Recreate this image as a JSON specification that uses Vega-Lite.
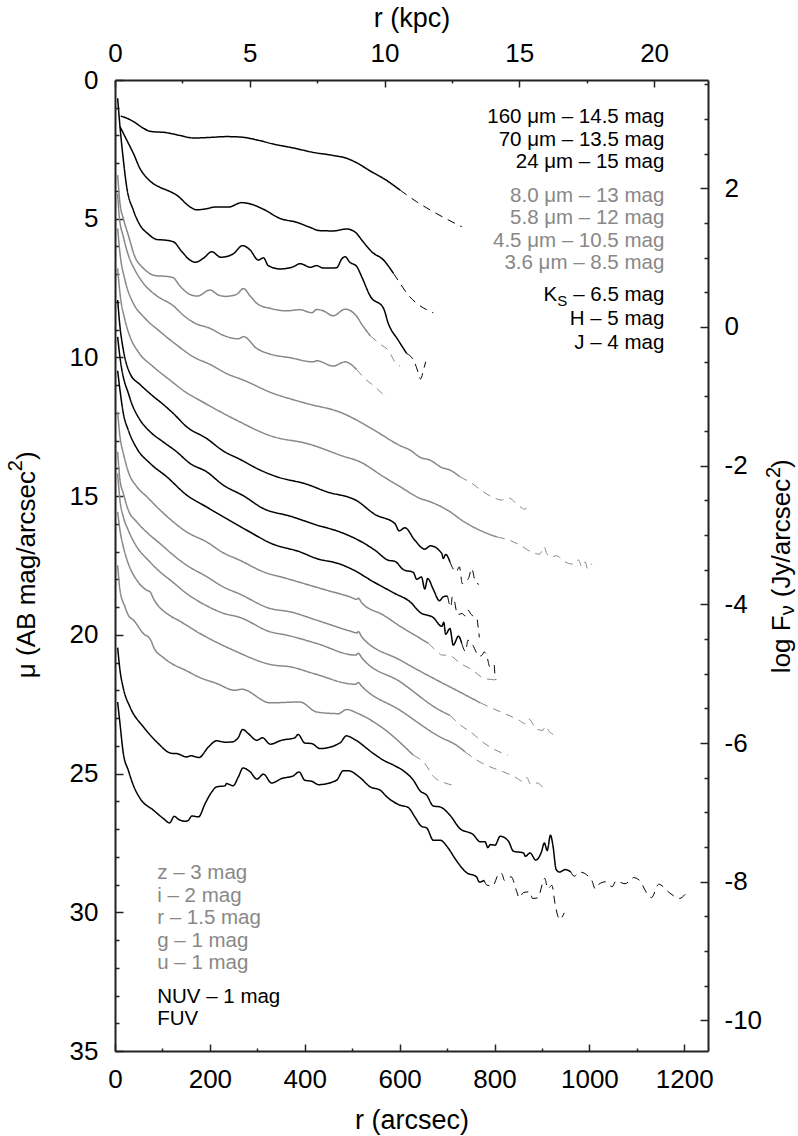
{
  "$schema": "https://vega.github.io/schema/vega-lite/v6.json",
  "width": 593,
  "height": 971,
  "autosize": {"type": "none"},
  "padding": {"left": 115, "top": 80, "right": 90, "bottom": 85},
  "background": "white",
  "config": {
    "view": {"stroke": null},
    "font": "Liberation Sans",
    "axis": {
      "grid": false,
      "domainColor": "#222",
      "domainWidth": 2,
      "tickColor": "#222",
      "tickWidth": 1.5,
      "labelFont": "Liberation Sans",
      "labelFontSize": 26,
      "labelColor": "black",
      "titleFont": "Liberation Sans",
      "titleFontSize": 27,
      "titleFontWeight": "normal",
      "titleColor": "black",
      "labelOverlap": false,
      "labelFlush": false
    }
  },
  "datasets": {
    "anchor": [{"r": 0, "mu": 0, "kpc": 0, "logF": 0}],
    "curves": [
      {"band":"160","part":"solid","r":12,"mu":1.3},{"band":"160","part":"solid","r":21,"mu":1.35},{"band":"160","part":"solid","r":39,"mu":1.5},{"band":"160","part":"solid","r":60,"mu":1.74},{"band":"160","part":"solid","r":74,"mu":1.85},{"band":"160","part":"solid","r":109,"mu":1.9},{"band":"160","part":"solid","r":137,"mu":2.0},{"band":"160","part":"solid","r":165,"mu":2.09},{"band":"160","part":"solid","r":200,"mu":2.07},{"band":"160","part":"solid","r":235,"mu":2.04},{"band":"160","part":"solid","r":267,"mu":2.06},{"band":"160","part":"solid","r":299,"mu":2.16},{"band":"160","part":"solid","r":334,"mu":2.31},{"band":"160","part":"solid","r":376,"mu":2.45},{"band":"160","part":"solid","r":418,"mu":2.61},{"band":"160","part":"solid","r":460,"mu":2.72},{"band":"160","part":"solid","r":488,"mu":2.82},{"band":"160","part":"solid","r":509,"mu":2.98},{"band":"160","part":"solid","r":538,"mu":3.28},{"band":"160","part":"solid","r":569,"mu":3.58},{"band":"160","part":"solid","r":601,"mu":3.97},
      {"band":"160","part":"dash","r":601,"mu":3.97},{"band":"160","part":"dash","r":636,"mu":4.39},{"band":"160","part":"dash","r":671,"mu":4.75},{"band":"160","part":"dash","r":731,"mu":5.29},
      {"band":"70","part":"solid","r":10.5,"mu":1.68},{"band":"70","part":"solid","r":24.6,"mu":2.16},{"band":"70","part":"solid","r":38.6,"mu":2.64},{"band":"70","part":"solid","r":52.7,"mu":3.19},{"band":"70","part":"solid","r":70,"mu":3.58},{"band":"70","part":"solid","r":95,"mu":3.87},{"band":"70","part":"solid","r":112,"mu":3.99},{"band":"70","part":"solid","r":130,"mu":4.15},{"band":"70","part":"solid","r":158,"mu":4.57},{"band":"70","part":"solid","r":172,"mu":4.68},{"band":"70","part":"solid","r":193,"mu":4.64},{"band":"70","part":"solid","r":211,"mu":4.58},{"band":"70","part":"solid","r":239,"mu":4.58},{"band":"70","part":"solid","r":267,"mu":4.42},{"band":"70","part":"solid","r":281,"mu":4.45},{"band":"70","part":"solid","r":313,"mu":4.66},{"band":"70","part":"solid","r":348,"mu":4.99},{"band":"70","part":"solid","r":383,"mu":5.13},{"band":"70","part":"solid","r":408,"mu":5.29},{"band":"70","part":"solid","r":432,"mu":5.43},{"band":"70","part":"solid","r":460,"mu":5.44},{"band":"70","part":"solid","r":488,"mu":5.37},{"band":"70","part":"solid","r":506,"mu":5.48},{"band":"70","part":"solid","r":523,"mu":5.83},{"band":"70","part":"solid","r":541,"mu":6.19},{"band":"70","part":"solid","r":566,"mu":6.49},{"band":"70","part":"solid","r":587,"mu":6.97},
      {"band":"70","part":"dash","r":587,"mu":6.97},{"band":"70","part":"dash","r":601,"mu":7.33},{"band":"70","part":"dash","r":618,"mu":7.75},{"band":"70","part":"dash","r":636,"mu":8.05},{"band":"70","part":"dash","r":671,"mu":8.39},
      {"band":"24","part":"solid","r":5.6,"mu":0.66},{"band":"24","part":"solid","r":10.5,"mu":1.68},{"band":"24","part":"solid","r":17.6,"mu":2.88},{"band":"24","part":"solid","r":24.6,"mu":3.85},{"band":"24","part":"solid","r":38.6,"mu":4.69},{"band":"24","part":"solid","r":52.7,"mu":5.23},{"band":"24","part":"solid","r":70,"mu":5.55},{"band":"24","part":"solid","r":88,"mu":5.75},{"band":"24","part":"solid","r":105,"mu":5.77},{"band":"24","part":"solid","r":123,"mu":5.83},{"band":"24","part":"solid","r":141,"mu":6.19},{"band":"24","part":"solid","r":158,"mu":6.49},{"band":"24","part":"solid","r":169,"mu":6.57},{"band":"24","part":"solid","r":186,"mu":6.43},{"band":"24","part":"solid","r":204,"mu":6.19},{"band":"24","part":"solid","r":223,"mu":6.39},{"band":"24","part":"solid","r":249,"mu":6.27},{"band":"24","part":"solid","r":269,"mu":5.97},{"band":"24","part":"solid","r":285,"mu":6.13},{"band":"24","part":"solid","r":302,"mu":6.49},{"band":"24","part":"solid","r":313,"mu":6.41},{"band":"24","part":"solid","r":323,"mu":6.69},{"band":"24","part":"solid","r":348,"mu":6.81},{"band":"24","part":"solid","r":376,"mu":6.73},{"band":"24","part":"solid","r":390,"mu":6.62},{"band":"24","part":"solid","r":412,"mu":6.75},{"band":"24","part":"solid","r":425,"mu":6.69},{"band":"24","part":"solid","r":439,"mu":6.78},{"band":"24","part":"solid","r":467,"mu":6.77},{"band":"24","part":"solid","r":478,"mu":6.45},{"band":"24","part":"solid","r":485,"mu":6.37},{"band":"24","part":"solid","r":495,"mu":6.57},{"band":"24","part":"solid","r":509,"mu":6.71},{"band":"24","part":"solid","r":520,"mu":7.09},{"band":"24","part":"solid","r":538,"mu":7.79},{"band":"24","part":"solid","r":566,"mu":8.23},{"band":"24","part":"solid","r":576,"mu":8.77},{"band":"24","part":"solid","r":597,"mu":9.38},{"band":"24","part":"solid","r":615,"mu":9.86},
      {"band":"24","part":"dash","r":615,"mu":9.86},{"band":"24","part":"dash","r":631,"mu":10.16},{"band":"24","part":"dash","r":641,"mu":10.64},{"band":"24","part":"dash","r":644,"mu":10.78},{"band":"24","part":"dash","r":651,"mu":10.4},{"band":"24","part":"dash","r":655,"mu":10.16},
      {"band":"8.0","part":"solid","r":5.6,"mu":3.43},{"band":"8.0","part":"solid","r":10.5,"mu":4.45},{"band":"8.0","part":"solid","r":17.6,"mu":4.99},{"band":"8.0","part":"solid","r":28,"mu":5.59},{"band":"8.0","part":"solid","r":42,"mu":6.37},{"band":"8.0","part":"solid","r":60,"mu":6.79},{"band":"8.0","part":"solid","r":88,"mu":7.06},{"band":"8.0","part":"solid","r":102,"mu":7.07},{"band":"8.0","part":"solid","r":122,"mu":7.12},{"band":"8.0","part":"solid","r":137,"mu":7.43},{"band":"8.0","part":"solid","r":158,"mu":7.73},{"band":"8.0","part":"solid","r":174,"mu":7.79},{"band":"8.0","part":"solid","r":200,"mu":7.57},{"band":"8.0","part":"solid","r":218,"mu":7.75},{"band":"8.0","part":"solid","r":232,"mu":7.8},{"band":"8.0","part":"solid","r":256,"mu":7.73},{"band":"8.0","part":"solid","r":271,"mu":7.52},{"band":"8.0","part":"solid","r":285,"mu":7.79},{"band":"8.0","part":"solid","r":302,"mu":8.09},{"band":"8.0","part":"solid","r":327,"mu":8.23},{"band":"8.0","part":"solid","r":362,"mu":8.32},{"band":"8.0","part":"solid","r":390,"mu":8.28},{"band":"8.0","part":"solid","r":415,"mu":8.39},{"band":"8.0","part":"solid","r":425,"mu":8.27},{"band":"8.0","part":"solid","r":439,"mu":8.32},{"band":"8.0","part":"solid","r":460,"mu":8.5},{"band":"8.0","part":"solid","r":485,"mu":8.26},{"band":"8.0","part":"solid","r":509,"mu":8.51},{"band":"8.0","part":"solid","r":520,"mu":8.8},{"band":"8.0","part":"solid","r":538,"mu":9.22},
      {"band":"8.0","part":"dash","r":538,"mu":9.22},{"band":"8.0","part":"dash","r":562,"mu":9.56},{"band":"8.0","part":"dash","r":576,"mu":9.74},{"band":"8.0","part":"dash","r":590,"mu":10.16},{"band":"8.0","part":"dash","r":601,"mu":10.32},
      {"band":"5.8","part":"solid","r":5.6,"mu":4.09},{"band":"5.8","part":"solid","r":9,"mu":4.93},{"band":"5.8","part":"solid","r":17.6,"mu":5.65},{"band":"5.8","part":"solid","r":28,"mu":6.31},{"band":"5.8","part":"solid","r":42,"mu":6.85},{"band":"5.8","part":"solid","r":60,"mu":7.33},{"band":"5.8","part":"solid","r":88,"mu":7.78},{"band":"5.8","part":"solid","r":123,"mu":8.14},{"band":"5.8","part":"solid","r":144,"mu":8.48},{"band":"5.8","part":"solid","r":169,"mu":8.77},{"band":"5.8","part":"solid","r":200,"mu":8.95},{"band":"5.8","part":"solid","r":228,"mu":9.2},{"band":"5.8","part":"solid","r":260,"mu":9.33},{"band":"5.8","part":"solid","r":271,"mu":9.25},{"band":"5.8","part":"solid","r":299,"mu":9.68},{"band":"5.8","part":"solid","r":327,"mu":9.88},{"band":"5.8","part":"solid","r":369,"mu":10.01},{"band":"5.8","part":"solid","r":418,"mu":10.16},{"band":"5.8","part":"solid","r":425,"mu":10.12},{"band":"5.8","part":"solid","r":460,"mu":10.31},{"band":"5.8","part":"solid","r":485,"mu":10.16},{"band":"5.8","part":"solid","r":509,"mu":10.43},
      {"band":"5.8","part":"dash","r":509,"mu":10.43},{"band":"5.8","part":"dash","r":523,"mu":10.7},{"band":"5.8","part":"dash","r":552,"mu":11.12},{"band":"5.8","part":"dash","r":573,"mu":11.48},
      {"band":"4.5","part":"solid","r":5.6,"mu":5.35},{"band":"4.5","part":"solid","r":10.5,"mu":6.25},{"band":"4.5","part":"solid","r":21,"mu":7.21},{"band":"4.5","part":"solid","r":38.6,"mu":8.05},{"band":"4.5","part":"solid","r":60,"mu":8.53},{"band":"4.5","part":"solid","r":95,"mu":9.07},{"band":"4.5","part":"solid","r":130,"mu":9.55},{"band":"4.5","part":"solid","r":165,"mu":9.98},{"band":"4.5","part":"solid","r":200,"mu":10.25},{"band":"4.5","part":"solid","r":235,"mu":10.58},{"band":"4.5","part":"solid","r":271,"mu":10.82},{"band":"4.5","part":"solid","r":334,"mu":11.3},{"band":"4.5","part":"solid","r":379,"mu":11.54},{"band":"4.5","part":"solid","r":404,"mu":11.66},{"band":"4.5","part":"solid","r":481,"mu":12.02},{"band":"4.5","part":"solid","r":516,"mu":12.32},{"band":"4.5","part":"solid","r":552,"mu":12.68},{"band":"4.5","part":"solid","r":601,"mu":13.18},{"band":"4.5","part":"solid","r":622,"mu":13.34},{"band":"4.5","part":"solid","r":643,"mu":13.6},{"band":"4.5","part":"solid","r":664,"mu":13.7},{"band":"4.5","part":"solid","r":689,"mu":13.97},{"band":"4.5","part":"solid","r":706,"mu":14.06},{"band":"4.5","part":"solid","r":727,"mu":14.3},
      {"band":"4.5","part":"dash","r":727,"mu":14.3},{"band":"4.5","part":"dash","r":752,"mu":14.54},{"band":"4.5","part":"dash","r":776,"mu":14.84},{"band":"4.5","part":"dash","r":803,"mu":15.09},{"band":"4.5","part":"dash","r":815,"mu":15.14},{"band":"4.5","part":"dash","r":829,"mu":15.06},{"band":"4.5","part":"dash","r":852,"mu":15.36},{"band":"4.5","part":"dash","r":864,"mu":15.47},{"band":"4.5","part":"dash","r":869,"mu":15.41},{"band":"4.5","part":"dash","r":876,"mu":15.48},
      {"band":"3.6","part":"solid","r":5.6,"mu":6.79},{"band":"3.6","part":"solid","r":10.5,"mu":7.69},{"band":"3.6","part":"solid","r":21,"mu":8.65},{"band":"3.6","part":"solid","r":31.6,"mu":9.25},{"band":"3.6","part":"solid","r":49,"mu":9.8},{"band":"3.6","part":"solid","r":81,"mu":10.34},{"band":"3.6","part":"solid","r":116,"mu":10.82},{"band":"3.6","part":"solid","r":148,"mu":11.24},{"band":"3.6","part":"solid","r":179,"mu":11.55},{"band":"3.6","part":"solid","r":249,"mu":12.2},{"band":"3.6","part":"solid","r":334,"mu":12.86},{"band":"3.6","part":"solid","r":404,"mu":13.1},{"band":"3.6","part":"solid","r":481,"mu":13.56},{"band":"3.6","part":"solid","r":516,"mu":13.76},{"band":"3.6","part":"solid","r":566,"mu":14.3},{"band":"3.6","part":"solid","r":601,"mu":14.66},{"band":"3.6","part":"solid","r":643,"mu":15.08},{"band":"3.6","part":"solid","r":664,"mu":15.2},{"band":"3.6","part":"solid","r":706,"mu":15.56},{"band":"3.6","part":"solid","r":731,"mu":15.87},{"band":"3.6","part":"solid","r":777,"mu":16.29},{"band":"3.6","part":"solid","r":805,"mu":16.47},
      {"band":"3.6","part":"dash","r":805,"mu":16.47},{"band":"3.6","part":"dash","r":833,"mu":16.6},{"band":"3.6","part":"dash","r":857,"mu":16.8},{"band":"3.6","part":"dash","r":882,"mu":17.05},{"band":"3.6","part":"dash","r":895,"mu":17.09},{"band":"3.6","part":"dash","r":905,"mu":16.83},{"band":"3.6","part":"dash","r":910,"mu":17.07},{"band":"3.6","part":"dash","r":919,"mu":17.19},{"band":"3.6","part":"dash","r":930,"mu":17.15},{"band":"3.6","part":"dash","r":951,"mu":17.39},{"band":"3.6","part":"dash","r":965,"mu":17.45},{"band":"3.6","part":"dash","r":977,"mu":17.3},{"band":"3.6","part":"dash","r":984,"mu":17.55},{"band":"3.6","part":"dash","r":991,"mu":17.37},{"band":"3.6","part":"dash","r":996,"mu":17.61},{"band":"3.6","part":"dash","r":1005,"mu":17.43},
      {"band":"Ks","part":"solid","r":5.6,"mu":7.93},{"band":"Ks","part":"solid","r":10.5,"mu":8.89},{"band":"Ks","part":"solid","r":17.6,"mu":9.73},{"band":"Ks","part":"solid","r":31.6,"mu":10.58},{"band":"Ks","part":"solid","r":53,"mu":10.98},{"band":"Ks","part":"solid","r":67,"mu":11.2},{"band":"Ks","part":"solid","r":84,"mu":11.45},{"band":"Ks","part":"solid","r":95,"mu":11.6},{"band":"Ks","part":"solid","r":123,"mu":12.02},{"band":"Ks","part":"solid","r":151,"mu":12.5},{"band":"Ks","part":"solid","r":193,"mu":12.92},{"band":"Ks","part":"solid","r":228,"mu":13.37},{"band":"Ks","part":"solid","r":263,"mu":13.67},{"band":"Ks","part":"solid","r":306,"mu":14.06},{"band":"Ks","part":"solid","r":341,"mu":14.3},{"band":"Ks","part":"solid","r":404,"mu":14.57},{"band":"Ks","part":"solid","r":446,"mu":14.84},{"band":"Ks","part":"solid","r":510,"mu":15.17},{"band":"Ks","part":"solid","r":548,"mu":15.66},{"band":"Ks","part":"solid","r":590,"mu":15.99},{"band":"Ks","part":"solid","r":599,"mu":16.25},{"band":"Ks","part":"solid","r":611,"mu":16.14},{"band":"Ks","part":"solid","r":632,"mu":16.59},{"band":"Ks","part":"solid","r":653,"mu":16.91},{"band":"Ks","part":"solid","r":665,"mu":16.79},{"band":"Ks","part":"solid","r":689,"mu":17.07},{"band":"Ks","part":"solid","r":692,"mu":17.25},{"band":"Ks","part":"solid","r":697,"mu":17.1},{"band":"Ks","part":"solid","r":706,"mu":17.37},
      {"band":"Ks","part":"dash","r":706,"mu":17.37},{"band":"Ks","part":"dash","r":719,"mu":17.73},{"band":"Ks","part":"dash","r":726,"mu":17.55},{"band":"Ks","part":"dash","r":732,"mu":18.15},{"band":"Ks","part":"dash","r":745,"mu":17.97},{"band":"Ks","part":"dash","r":752,"mu":17.61},{"band":"Ks","part":"dash","r":759,"mu":18.06},{"band":"Ks","part":"dash","r":767,"mu":18.18},
      {"band":"H","part":"solid","r":5.6,"mu":9.26},{"band":"H","part":"solid","r":10.5,"mu":10.0},{"band":"H","part":"solid","r":21,"mu":10.94},{"band":"H","part":"solid","r":26,"mu":11.18},{"band":"H","part":"solid","r":35,"mu":11.65},{"band":"H","part":"solid","r":53,"mu":12.26},{"band":"H","part":"solid","r":74,"mu":12.68},{"band":"H","part":"solid","r":102,"mu":13.05},{"band":"H","part":"solid","r":130,"mu":13.4},{"band":"H","part":"solid","r":158,"mu":13.82},{"band":"H","part":"solid","r":193,"mu":14.12},{"band":"H","part":"solid","r":228,"mu":14.6},{"band":"H","part":"solid","r":271,"mu":14.99},{"band":"H","part":"solid","r":313,"mu":15.45},{"band":"H","part":"solid","r":369,"mu":15.72},{"band":"H","part":"solid","r":425,"mu":16.04},{"band":"H","part":"solid","r":474,"mu":16.29},{"band":"H","part":"solid","r":520,"mu":16.65},{"band":"H","part":"solid","r":548,"mu":16.95},{"band":"H","part":"solid","r":576,"mu":17.31},{"band":"H","part":"solid","r":590,"mu":17.35},{"band":"H","part":"solid","r":608,"mu":17.65},{"band":"H","part":"solid","r":629,"mu":17.75},{"band":"H","part":"solid","r":636,"mu":18.0},{"band":"H","part":"solid","r":646,"mu":17.91},{"band":"H","part":"solid","r":653,"mu":18.35},{"band":"H","part":"solid","r":659,"mu":17.97},{"band":"H","part":"solid","r":671,"mu":18.36},{"band":"H","part":"solid","r":684,"mu":18.77},{"band":"H","part":"solid","r":692,"mu":18.63},{"band":"H","part":"solid","r":701,"mu":18.6},
      {"band":"H","part":"dash","r":701,"mu":18.6},{"band":"H","part":"dash","r":708,"mu":19.0},{"band":"H","part":"dash","r":711,"mu":18.63},{"band":"H","part":"dash","r":715,"mu":18.75},{"band":"H","part":"dash","r":722,"mu":19.27},{"band":"H","part":"dash","r":732,"mu":19.23},{"band":"H","part":"dash","r":738,"mu":19.32},{"band":"H","part":"dash","r":744,"mu":19.11},{"band":"H","part":"dash","r":751,"mu":19.27},{"band":"H","part":"dash","r":763,"mu":19.41},{"band":"H","part":"dash","r":765,"mu":19.65},{"band":"H","part":"dash","r":768,"mu":20.09},
      {"band":"J","part":"solid","r":5.6,"mu":10.48},{"band":"J","part":"solid","r":10.5,"mu":11.18},{"band":"J","part":"solid","r":17.6,"mu":12.02},{"band":"J","part":"solid","r":28,"mu":12.62},{"band":"J","part":"solid","r":46,"mu":13.28},{"band":"J","part":"solid","r":74,"mu":13.82},{"band":"J","part":"solid","r":109,"mu":14.3},{"band":"J","part":"solid","r":151,"mu":14.96},{"band":"J","part":"solid","r":193,"mu":15.39},{"band":"J","part":"solid","r":235,"mu":15.81},{"band":"J","part":"solid","r":278,"mu":16.23},{"band":"J","part":"solid","r":330,"mu":16.71},{"band":"J","part":"solid","r":390,"mu":17.01},{"band":"J","part":"solid","r":425,"mu":17.25},{"band":"J","part":"solid","r":471,"mu":17.43},{"band":"J","part":"solid","r":499,"mu":17.63},{"band":"J","part":"solid","r":545,"mu":18.09},{"band":"J","part":"solid","r":590,"mu":18.51},{"band":"J","part":"solid","r":622,"mu":18.81},{"band":"J","part":"solid","r":643,"mu":19.19},{"band":"J","part":"solid","r":671,"mu":19.38},{"band":"J","part":"solid","r":689,"mu":19.69},{"band":"J","part":"solid","r":693,"mu":19.55},{"band":"J","part":"solid","r":697,"mu":19.98},{"band":"J","part":"solid","r":706,"mu":19.77},{"band":"J","part":"solid","r":713,"mu":20.37},{"band":"J","part":"solid","r":724,"mu":20.05},{"band":"J","part":"solid","r":731,"mu":20.31},
      {"band":"J","part":"dash","r":731,"mu":20.31},{"band":"J","part":"dash","r":739,"mu":20.6},{"band":"J","part":"dash","r":744,"mu":20.19},{"band":"J","part":"dash","r":753,"mu":20.34},{"band":"J","part":"dash","r":768,"mu":20.77},{"band":"J","part":"dash","r":774,"mu":20.73},{"band":"J","part":"dash","r":778,"mu":20.61},{"band":"J","part":"dash","r":785,"mu":20.85},{"band":"J","part":"dash","r":790,"mu":21.15},{"band":"J","part":"dash","r":799,"mu":21.06},{"band":"J","part":"dash","r":801,"mu":21.45},{"band":"J","part":"dash","r":803,"mu":21.63},
      {"band":"z","part":"solid","r":5.6,"mu":11.96},{"band":"z","part":"solid","r":10.5,"mu":12.86},{"band":"z","part":"solid","r":17.6,"mu":13.46},{"band":"z","part":"solid","r":28,"mu":14.12},{"band":"z","part":"solid","r":46,"mu":14.66},{"band":"z","part":"solid","r":67,"mu":15.02},{"band":"z","part":"solid","r":95,"mu":15.5},{"band":"z","part":"solid","r":123,"mu":15.93},{"band":"z","part":"solid","r":151,"mu":16.29},{"band":"z","part":"solid","r":193,"mu":16.65},{"band":"z","part":"solid","r":228,"mu":17.04},{"band":"z","part":"solid","r":263,"mu":17.31},{"band":"z","part":"solid","r":313,"mu":17.73},{"band":"z","part":"solid","r":362,"mu":17.97},{"band":"z","part":"solid","r":446,"mu":18.39},{"band":"z","part":"solid","r":495,"mu":18.63},{"band":"z","part":"solid","r":510,"mu":18.72},{"band":"z","part":"solid","r":513,"mu":18.68},{"band":"z","part":"solid","r":520,"mu":18.84},{"band":"z","part":"solid","r":566,"mu":19.29},{"band":"z","part":"solid","r":601,"mu":19.69},{"band":"z","part":"solid","r":632,"mu":20.01},{"band":"z","part":"solid","r":661,"mu":20.31},
      {"band":"z","part":"dash","r":661,"mu":20.31},{"band":"z","part":"dash","r":678,"mu":20.58},{"band":"z","part":"dash","r":690,"mu":20.73},{"band":"z","part":"dash","r":703,"mu":20.73},{"band":"z","part":"dash","r":728,"mu":21.03},{"band":"z","part":"dash","r":752,"mu":21.25},{"band":"z","part":"dash","r":778,"mu":21.57},{"band":"z","part":"dash","r":794,"mu":21.61},{"band":"z","part":"dash","r":803,"mu":21.63},
      {"band":"i","part":"solid","r":5.6,"mu":13.4},{"band":"i","part":"solid","r":10.5,"mu":14.42},{"band":"i","part":"solid","r":17.6,"mu":14.9},{"band":"i","part":"solid","r":28,"mu":15.5},{"band":"i","part":"solid","r":46,"mu":15.93},{"band":"i","part":"solid","r":70,"mu":16.35},{"band":"i","part":"solid","r":95,"mu":16.71},{"band":"i","part":"solid","r":119,"mu":17.07},{"band":"i","part":"solid","r":151,"mu":17.49},{"band":"i","part":"solid","r":193,"mu":17.9},{"band":"i","part":"solid","r":228,"mu":18.27},{"band":"i","part":"solid","r":263,"mu":18.53},{"band":"i","part":"solid","r":327,"mu":19.05},{"band":"i","part":"solid","r":369,"mu":19.17},{"band":"i","part":"solid","r":425,"mu":19.47},{"band":"i","part":"solid","r":495,"mu":19.86},{"band":"i","part":"solid","r":510,"mu":19.93},{"band":"i","part":"solid","r":513,"mu":19.88},{"band":"i","part":"solid","r":520,"mu":20.07},{"band":"i","part":"solid","r":601,"mu":20.91},{"band":"i","part":"solid","r":685,"mu":21.69},{"band":"i","part":"solid","r":720,"mu":22.0},{"band":"i","part":"solid","r":770,"mu":22.45},
      {"band":"i","part":"dash","r":770,"mu":22.45},{"band":"i","part":"dash","r":797,"mu":22.66},{"band":"i","part":"dash","r":824,"mu":22.86},{"band":"i","part":"dash","r":852,"mu":23.08},{"band":"i","part":"dash","r":864,"mu":23.2},{"band":"i","part":"dash","r":871,"mu":23.02},{"band":"i","part":"dash","r":890,"mu":23.41},{"band":"i","part":"dash","r":902,"mu":23.44},{"band":"i","part":"dash","r":907,"mu":23.29},{"band":"i","part":"dash","r":916,"mu":23.5},{"band":"i","part":"dash","r":929,"mu":23.62},
      {"band":"r","part":"solid","r":5.6,"mu":14.18},{"band":"r","part":"solid","r":10.5,"mu":15.15},{"band":"r","part":"solid","r":17.6,"mu":15.75},{"band":"r","part":"solid","r":28,"mu":16.23},{"band":"r","part":"solid","r":46,"mu":16.83},{"band":"r","part":"solid","r":70,"mu":17.31},{"band":"r","part":"solid","r":95,"mu":17.73},{"band":"r","part":"solid","r":119,"mu":18.06},{"band":"r","part":"solid","r":151,"mu":18.51},{"band":"r","part":"solid","r":193,"mu":18.95},{"band":"r","part":"solid","r":228,"mu":19.22},{"band":"r","part":"solid","r":263,"mu":19.37},{"band":"r","part":"solid","r":327,"mu":19.89},{"band":"r","part":"solid","r":362,"mu":20.01},{"band":"r","part":"solid","r":425,"mu":20.31},{"band":"r","part":"solid","r":507,"mu":20.73},{"band":"r","part":"solid","r":513,"mu":20.66},{"band":"r","part":"solid","r":520,"mu":20.82},{"band":"r","part":"solid","r":601,"mu":21.69},{"band":"r","part":"solid","r":685,"mu":22.72},{"band":"r","part":"solid","r":706,"mu":22.9},
      {"band":"r","part":"dash","r":706,"mu":22.9},{"band":"r","part":"dash","r":729,"mu":23.26},{"band":"r","part":"dash","r":754,"mu":23.56},{"band":"r","part":"dash","r":777,"mu":23.89},{"band":"r","part":"dash","r":803,"mu":24.16},{"band":"r","part":"dash","r":828,"mu":24.34},
      {"band":"g","part":"solid","r":5.6,"mu":15.57},{"band":"g","part":"solid","r":10.5,"mu":16.23},{"band":"g","part":"solid","r":17.6,"mu":16.83},{"band":"g","part":"solid","r":28,"mu":17.43},{"band":"g","part":"solid","r":46,"mu":18.03},{"band":"g","part":"solid","r":67,"mu":18.39},{"band":"g","part":"solid","r":74,"mu":18.45},{"band":"g","part":"solid","r":81,"mu":18.69},{"band":"g","part":"solid","r":117,"mu":19.32},{"band":"g","part":"solid","r":133,"mu":19.47},{"band":"g","part":"solid","r":179,"mu":19.95},{"band":"g","part":"solid","r":249,"mu":20.55},{"band":"g","part":"solid","r":334,"mu":21.09},{"band":"g","part":"solid","r":369,"mu":21.15},{"band":"g","part":"solid","r":418,"mu":21.39},{"band":"g","part":"solid","r":507,"mu":21.78},{"band":"g","part":"solid","r":513,"mu":21.72},{"band":"g","part":"solid","r":520,"mu":21.85},{"band":"g","part":"solid","r":601,"mu":22.72},{"band":"g","part":"solid","r":685,"mu":23.68},{"band":"g","part":"solid","r":720,"mu":23.98},{"band":"g","part":"solid","r":738,"mu":24.22},
      {"band":"g","part":"dash","r":738,"mu":24.22},{"band":"g","part":"dash","r":763,"mu":24.52},{"band":"g","part":"dash","r":791,"mu":24.76},{"band":"g","part":"dash","r":819,"mu":24.94},{"band":"g","part":"dash","r":845,"mu":25.14},{"band":"g","part":"dash","r":859,"mu":25.28},{"band":"g","part":"dash","r":868,"mu":25.14},{"band":"g","part":"dash","r":876,"mu":25.38},{"band":"g","part":"dash","r":890,"mu":25.34},{"band":"g","part":"dash","r":902,"mu":25.51},
      {"band":"u","part":"solid","r":5.6,"mu":17.49},{"band":"u","part":"solid","r":10.5,"mu":18.39},{"band":"u","part":"solid","r":21,"mu":18.99},{"band":"u","part":"solid","r":28,"mu":19.29},{"band":"u","part":"solid","r":39,"mu":19.47},{"band":"u","part":"solid","r":63,"mu":20.0},{"band":"u","part":"solid","r":70,"mu":20.07},{"band":"u","part":"solid","r":77,"mu":20.25},{"band":"u","part":"solid","r":81,"mu":20.43},{"band":"u","part":"solid","r":102,"mu":20.82},{"band":"u","part":"solid","r":119,"mu":21.03},{"band":"u","part":"solid","r":148,"mu":21.27},{"band":"u","part":"solid","r":179,"mu":21.54},{"band":"u","part":"solid","r":214,"mu":21.75},{"band":"u","part":"solid","r":253,"mu":22.0},{"band":"u","part":"solid","r":267,"mu":21.96},{"band":"u","part":"solid","r":327,"mu":22.45},{"band":"u","part":"solid","r":390,"mu":22.42},{"band":"u","part":"solid","r":425,"mu":22.78},{"band":"u","part":"solid","r":471,"mu":22.84},{"band":"u","part":"solid","r":488,"mu":22.69},{"band":"u","part":"solid","r":513,"mu":22.84},{"band":"u","part":"solid","r":566,"mu":23.38},{"band":"u","part":"solid","r":629,"mu":24.34},
      {"band":"u","part":"dash","r":629,"mu":24.34},{"band":"u","part":"dash","r":653,"mu":24.64},{"band":"u","part":"dash","r":671,"mu":25.1},{"band":"u","part":"dash","r":696,"mu":25.34},{"band":"u","part":"dash","r":713,"mu":25.42},
      {"band":"NUV","part":"solid","r":5.6,"mu":20.46},{"band":"NUV","part":"solid","r":10.5,"mu":21.27},{"band":"NUV","part":"solid","r":17.6,"mu":21.93},{"band":"NUV","part":"solid","r":31.6,"mu":22.6},{"band":"NUV","part":"solid","r":60,"mu":23.32},{"band":"NUV","part":"solid","r":88,"mu":23.86},{"band":"NUV","part":"solid","r":119,"mu":24.27},{"band":"NUV","part":"solid","r":130,"mu":24.28},{"band":"NUV","part":"solid","r":151,"mu":24.4},{"band":"NUV","part":"solid","r":160,"mu":24.36},{"band":"NUV","part":"solid","r":177,"mu":24.42},{"band":"NUV","part":"solid","r":197,"mu":24.04},{"band":"NUV","part":"solid","r":214,"mu":23.82},{"band":"NUV","part":"solid","r":232,"mu":23.87},{"band":"NUV","part":"solid","r":246,"mu":23.86},{"band":"NUV","part":"solid","r":260,"mu":23.7},{"band":"NUV","part":"solid","r":269,"mu":23.41},{"band":"NUV","part":"solid","r":281,"mu":23.56},{"band":"NUV","part":"solid","r":299,"mu":23.8},{"band":"NUV","part":"solid","r":311,"mu":23.71},{"band":"NUV","part":"solid","r":327,"mu":23.94},{"band":"NUV","part":"solid","r":351,"mu":23.8},{"band":"NUV","part":"solid","r":379,"mu":23.71},{"band":"NUV","part":"solid","r":386,"mu":23.59},{"band":"NUV","part":"solid","r":400,"mu":23.9},{"band":"NUV","part":"solid","r":415,"mu":23.92},{"band":"NUV","part":"solid","r":432,"mu":24.1},{"band":"NUV","part":"solid","r":474,"mu":23.9},{"band":"NUV","part":"solid","r":488,"mu":23.64},{"band":"NUV","part":"solid","r":502,"mu":23.74},{"band":"NUV","part":"solid","r":545,"mu":24.28},{"band":"NUV","part":"solid","r":566,"mu":24.52},{"band":"NUV","part":"solid","r":590,"mu":24.72},{"band":"NUV","part":"solid","r":611,"mu":24.94},{"band":"NUV","part":"solid","r":629,"mu":25.24},{"band":"NUV","part":"solid","r":643,"mu":25.62},{"band":"NUV","part":"solid","r":657,"mu":25.78},{"band":"NUV","part":"solid","r":671,"mu":26.17},{"band":"NUV","part":"solid","r":685,"mu":26.2},{"band":"NUV","part":"solid","r":706,"mu":26.5},{"band":"NUV","part":"solid","r":727,"mu":26.98},{"band":"NUV","part":"solid","r":755,"mu":27.2},{"band":"NUV","part":"solid","r":770,"mu":27.46},{"band":"NUV","part":"solid","r":780,"mu":27.46},{"band":"NUV","part":"solid","r":786,"mu":27.67},{"band":"NUV","part":"solid","r":791,"mu":27.56},{"band":"NUV","part":"solid","r":801,"mu":27.58},{"band":"NUV","part":"solid","r":812,"mu":27.26},{"band":"NUV","part":"solid","r":829,"mu":27.43},{"band":"NUV","part":"solid","r":840,"mu":27.8},{"band":"NUV","part":"solid","r":861,"mu":27.86},{"band":"NUV","part":"solid","r":865,"mu":27.98},{"band":"NUV","part":"solid","r":875,"mu":27.86},{"band":"NUV","part":"solid","r":887,"mu":28.12},{"band":"NUV","part":"solid","r":899,"mu":27.82},{"band":"NUV","part":"solid","r":905,"mu":27.5},{"band":"NUV","part":"solid","r":911,"mu":27.77},{"band":"NUV","part":"solid","r":918,"mu":27.22},{"band":"NUV","part":"solid","r":923,"mu":27.58},{"band":"NUV","part":"solid","r":930,"mu":28.46},{"band":"NUV","part":"solid","r":937,"mu":28.55},{"band":"NUV","part":"solid","r":949,"mu":28.46},{"band":"NUV","part":"solid","r":961,"mu":28.55},
      {"band":"NUV","part":"dash","r":961,"mu":28.55},{"band":"NUV","part":"dash","r":968,"mu":28.7},{"band":"NUV","part":"dash","r":980,"mu":28.55},{"band":"NUV","part":"dash","r":1005,"mu":28.85},{"band":"NUV","part":"dash","r":1012,"mu":29.15},{"band":"NUV","part":"dash","r":1017,"mu":29.03},{"band":"NUV","part":"dash","r":1034,"mu":28.9},{"band":"NUV","part":"dash","r":1048,"mu":29.08},{"band":"NUV","part":"dash","r":1056,"mu":28.87},{"band":"NUV","part":"dash","r":1075,"mu":28.97},{"band":"NUV","part":"dash","r":1087,"mu":28.84},{"band":"NUV","part":"dash","r":1093,"mu":28.75},{"band":"NUV","part":"dash","r":1105,"mu":28.84},{"band":"NUV","part":"dash","r":1124,"mu":29.38},{"band":"NUV","part":"dash","r":1131,"mu":29.47},{"band":"NUV","part":"dash","r":1146,"mu":28.99},{"band":"NUV","part":"dash","r":1169,"mu":29.3},{"band":"NUV","part":"dash","r":1190,"mu":29.5},{"band":"NUV","part":"dash","r":1202,"mu":29.35},
      {"band":"FUV","part":"solid","r":5.6,"mu":22.42},{"band":"FUV","part":"solid","r":10.5,"mu":23.2},{"band":"FUV","part":"solid","r":17.6,"mu":24.28},{"band":"FUV","part":"solid","r":28,"mu":24.88},{"band":"FUV","part":"solid","r":38.6,"mu":25.42},{"band":"FUV","part":"solid","r":53,"mu":25.9},{"band":"FUV","part":"solid","r":81,"mu":26.32},{"band":"FUV","part":"solid","r":102,"mu":26.62},{"band":"FUV","part":"solid","r":115,"mu":26.78},{"band":"FUV","part":"solid","r":125,"mu":26.54},{"band":"FUV","part":"solid","r":134,"mu":26.65},{"band":"FUV","part":"solid","r":148,"mu":26.72},{"band":"FUV","part":"solid","r":155,"mu":26.68},{"band":"FUV","part":"solid","r":162,"mu":26.53},{"band":"FUV","part":"solid","r":176,"mu":26.56},{"band":"FUV","part":"solid","r":190,"mu":26.08},{"band":"FUV","part":"solid","r":204,"mu":25.66},{"band":"FUV","part":"solid","r":214,"mu":25.48},{"band":"FUV","part":"solid","r":232,"mu":25.44},{"band":"FUV","part":"solid","r":235,"mu":25.36},{"band":"FUV","part":"solid","r":249,"mu":25.44},{"band":"FUV","part":"solid","r":260,"mu":25.12},{"band":"FUV","part":"solid","r":270,"mu":24.8},{"band":"FUV","part":"solid","r":285,"mu":24.94},{"band":"FUV","part":"solid","r":299,"mu":25.2},{"band":"FUV","part":"solid","r":313,"mu":25.02},{"band":"FUV","part":"solid","r":330,"mu":25.34},{"band":"FUV","part":"solid","r":351,"mu":25.18},{"band":"FUV","part":"solid","r":376,"mu":25.08},{"band":"FUV","part":"solid","r":388,"mu":24.94},{"band":"FUV","part":"solid","r":400,"mu":25.24},{"band":"FUV","part":"solid","r":415,"mu":25.28},{"band":"FUV","part":"solid","r":429,"mu":25.4},{"band":"FUV","part":"solid","r":467,"mu":25.24},{"band":"FUV","part":"solid","r":481,"mu":24.9},{"band":"FUV","part":"solid","r":492,"mu":24.9},{"band":"FUV","part":"solid","r":516,"mu":25.14},{"band":"FUV","part":"solid","r":538,"mu":25.48},{"band":"FUV","part":"solid","r":559,"mu":25.6},{"band":"FUV","part":"solid","r":573,"mu":25.84},{"band":"FUV","part":"solid","r":601,"mu":26.14},{"band":"FUV","part":"solid","r":618,"mu":26.22},{"band":"FUV","part":"solid","r":632,"mu":26.56},{"band":"FUV","part":"solid","r":646,"mu":26.9},{"band":"FUV","part":"solid","r":657,"mu":26.96},{"band":"FUV","part":"solid","r":671,"mu":27.4},{"band":"FUV","part":"solid","r":685,"mu":27.4},{"band":"FUV","part":"solid","r":703,"mu":27.7},{"band":"FUV","part":"solid","r":717,"mu":28.07},{"band":"FUV","part":"solid","r":741,"mu":28.57},{"band":"FUV","part":"solid","r":762,"mu":28.72},{"band":"FUV","part":"solid","r":768,"mu":28.91},{"band":"FUV","part":"solid","r":778,"mu":28.85},
      {"band":"FUV","part":"dash","r":778,"mu":28.85},{"band":"FUV","part":"dash","r":784,"mu":29.02},{"band":"FUV","part":"dash","r":796,"mu":29.05},{"band":"FUV","part":"dash","r":810,"mu":28.6},{"band":"FUV","part":"dash","r":815,"mu":28.6},{"band":"FUV","part":"dash","r":821,"mu":28.85},{"band":"FUV","part":"dash","r":835,"mu":28.72},{"band":"FUV","part":"dash","r":847,"mu":29.26},{"band":"FUV","part":"dash","r":852,"mu":29.48},{"band":"FUV","part":"dash","r":861,"mu":29.29},{"band":"FUV","part":"dash","r":875,"mu":29.26},{"band":"FUV","part":"dash","r":880,"mu":29.5},{"band":"FUV","part":"dash","r":891,"mu":29.48},{"band":"FUV","part":"dash","r":906,"mu":28.78},{"band":"FUV","part":"dash","r":912,"mu":29.15},{"band":"FUV","part":"dash","r":921,"mu":29.03},{"band":"FUV","part":"dash","r":927,"mu":29.63},{"band":"FUV","part":"dash","r":933,"mu":30.11},{"band":"FUV","part":"dash","r":937,"mu":30.26},{"band":"FUV","part":"dash","r":947,"mu":30.02}
    ],
    "notesRight": [
      {"label":"160 μm – 14.5 mag","band":"160","r":1158,"mu":1.32},
      {"label":"70 μm – 13.5 mag","band":"70","r":1158,"mu":2.16},
      {"label":"24 μm – 15 mag","band":"24","r":1158,"mu":2.94},
      {"label":"8.0 μm – 13 mag","band":"8.0","r":1158,"mu":4.18},
      {"label":"5.8 μm – 12 mag","band":"5.8","r":1158,"mu":4.98},
      {"label":"4.5 μm – 10.5 mag","band":"4.5","r":1158,"mu":5.79},
      {"label":"3.6 μm – 8.5 mag","band":"3.6","r":1158,"mu":6.6},
      {"label":"– 6.5 mag","band":"Ks","r":1158,"mu":7.75},
      {"label":"K","band":"Ks","r":932,"mu":7.75},
      {"label":"H – 5 mag","band":"H","r":1158,"mu":8.62},
      {"label":"J – 4 mag","band":"J","r":1158,"mu":9.48}
    ],
    "notesLeft": [
      {"label":"z – 3 mag","band":"z","r":89,"mu":28.57},
      {"label":"i – 2 mag","band":"i","r":89,"mu":29.41},
      {"label":"r – 1.5 mag","band":"r","r":89,"mu":30.21},
      {"label":"g – 1 mag","band":"g","r":89,"mu":31.03},
      {"label":"u – 1 mag","band":"u","r":89,"mu":31.83},
      {"label":"NUV – 1 mag","band":"NUV","r":89,"mu":33.05},
      {"label":"FUV","band":"FUV","r":89,"mu":33.85}
    ],
    "subscript": [{"label":"S","band":"Ks","r":932,"mu":7.98}],
    "sideTitles": [
      {"label":"μ (AB mag/arcsec","kind":"main","r":-168.6,"mu":21.56},
      {"label":"2","kind":"small","r":-196.7,"mu":14.1},
      {"label":")","kind":"main","r":-168.6,"mu":13.7},
      {"label":"log F","kind":"main","r":1422.8,"mu":21.38},
      {"label":"ν","kind":"small","r":1431,"mu":19.29},
      {"label":"(Jy/arcsec","kind":"main","r":1422.8,"mu":18.64},
      {"label":"2","kind":"small","r":1401.8,"mu":14.35},
      {"label":")","kind":"main","r":1422.8,"mu":13.99}
    ]
  },
  "resolve": {"scale": {"x": "independent", "y": "independent"}, "axis": {"x": "independent", "y": "independent"}},
  "layer": [
    {
      "data": {"name": "anchor"},
      "mark": {"type": "point", "opacity": 0},
      "encoding": {
        "x": {"field": "r", "type": "quantitative", "scale": {"domain": [0, 1250], "nice": false, "zero": false},
          "axis": {"orient": "bottom", "title": "r (arcsec)", "values": [0, 200, 400, 600, 800, 1000, 1200], "tickSize": -7, "labelPadding": 35, "labelBaseline": "middle", "titlePadding": 15, "format": "d"}},
        "y": {"field": "mu", "type": "quantitative", "scale": {"domain": [0, 35], "reverse": true, "nice": false, "zero": false},
          "axis": {"orient": "left", "title": null, "values": [0, 5, 10, 15, 20, 25, 30, 35], "tickSize": -8, "labelPadding": 25, "format": "d"}}
      }
    },
    {
      "data": {"name": "anchor"},
      "mark": {"type": "point", "opacity": 0},
      "encoding": {
        "x": {"field": "r", "type": "quantitative", "scale": {"domain": [0, 1250], "nice": false, "zero": false},
          "axis": {"orient": "bottom", "title": null, "labels": false, "domain": false, "values": [100, 300, 500, 700, 900, 1100], "tickSize": -3}},
        "y": {"field": "mu", "type": "quantitative", "scale": {"domain": [0, 35], "reverse": true, "nice": false, "zero": false},
          "axis": {"orient": "left", "title": null, "labels": false, "domain": false, "values": [1, 2, 3, 4, 6, 7, 8, 9, 11, 12, 13, 14, 16, 17, 18, 19, 21, 22, 23, 24, 26, 27, 28, 29, 31, 32, 33, 34], "tickSize": -4}}
      }
    },
    {
      "data": {"name": "anchor"},
      "mark": {"type": "point", "opacity": 0},
      "encoding": {
        "x": {"field": "kpc", "type": "quantitative", "scale": {"domain": [0, 22], "nice": false, "zero": false},
          "axis": {"orient": "top", "title": "r (kpc)", "values": [0, 5, 10, 15, 20], "tickSize": -7, "labelPadding": 21, "titlePadding": 8, "format": "d"}},
        "y": {"field": "logF", "type": "quantitative", "scale": {"domain": [-10.44, 3.56], "nice": false, "zero": false},
          "axis": {"orient": "right", "title": null, "values": [-10, -8, -6, -4, -2, 0, 2], "tickSize": -8, "labelPadding": 24, "labelExpr": "datum.value < 0 ? '-' + abs(datum.value) : '\u00a0' + datum.value"}}
      }
    },
    {
      "data": {"name": "anchor"},
      "mark": {"type": "point", "opacity": 0},
      "encoding": {
        "x": {"field": "kpc", "type": "quantitative", "scale": {"domain": [0, 22], "nice": false, "zero": false},
          "axis": {"orient": "top", "title": null, "labels": false, "domain": false, "values": [2.5, 7.5, 12.5, 17.5], "tickSize": -3}},
        "y": {"field": "logF", "type": "quantitative", "scale": {"domain": [-10.44, 3.56], "nice": false, "zero": false},
          "axis": {"orient": "right", "title": null, "labels": false, "domain": false, "values": [-9.5, -9, -8.5, -7.5, -7, -6.5, -5.5, -5, -4.5, -3.5, -3, -2.5, -1.5, -1, -0.5, 0.5, 1, 1.5, 2.5, 3, 3.5], "tickSize": -4}}
      }
    },
    {
      "data": {"name": "curves"},
      "mark": {"type": "line", "interpolate": "monotone", "clip": true},
      "encoding": {
        "x": {"field": "r", "type": "quantitative", "axis": null, "scale": {"domain": [0, 1250], "nice": false, "zero": false}},
        "y": {"field": "mu", "type": "quantitative", "axis": null, "scale": {"domain": [0, 35], "reverse": true, "nice": false, "zero": false}},
        "color": {"field": "band", "type": "nominal", "legend": null,
          "scale": {"domain": ["160","70","24","8.0","5.8","4.5","3.6","Ks","H","J","z","i","r","g","u","NUV","FUV"],
            "range": ["#000","#000","#000","#888","#888","#888","#888","#000","#000","#000","#888","#888","#888","#888","#888","#000","#000"]}},
        "strokeDash": {"field": "part", "type": "nominal", "legend": null, "scale": {"domain": ["solid", "dash"], "range": [[1, 0], [8, 6]]}},
        "strokeWidth": {"field": "part", "type": "nominal", "legend": null, "scale": {"domain": ["solid", "dash"], "range": [1.5, 1]}}
      }
    },
    {
      "data": {"name": "notesRight"},
      "mark": {"type": "text", "align": "right", "baseline": "middle", "fontSize": 20.5},
      "encoding": {
        "x": {"field": "r", "type": "quantitative", "axis": null, "scale": {"domain": [0, 1250], "nice": false, "zero": false}},
        "y": {"field": "mu", "type": "quantitative", "axis": null, "scale": {"domain": [0, 35], "reverse": true, "nice": false, "zero": false}},
        "text": {"field": "label"},
        "color": {"field": "band", "type": "nominal", "legend": null,
          "scale": {"domain": ["160","70","24","8.0","5.8","4.5","3.6","Ks","H","J"],
            "range": ["#000","#000","#000","#888","#888","#888","#888","#000","#000","#000"]}}
      }
    },
    {
      "data": {"name": "notesLeft"},
      "mark": {"type": "text", "align": "left", "baseline": "middle", "fontSize": 20.5},
      "encoding": {
        "x": {"field": "r", "type": "quantitative", "axis": null, "scale": {"domain": [0, 1250], "nice": false, "zero": false}},
        "y": {"field": "mu", "type": "quantitative", "axis": null, "scale": {"domain": [0, 35], "reverse": true, "nice": false, "zero": false}},
        "text": {"field": "label"},
        "color": {"field": "band", "type": "nominal", "legend": null,
          "scale": {"domain": ["z","i","r","g","u","NUV","FUV"],
            "range": ["#888","#888","#888","#888","#888","#000","#000"]}}
      }
    },
    {
      "data": {"name": "subscript"},
      "mark": {"type": "text", "align": "left", "baseline": "middle", "fontSize": 15, "color": "#000"},
      "encoding": {
        "x": {"field": "r", "type": "quantitative", "axis": null, "scale": {"domain": [0, 1250], "nice": false, "zero": false}},
        "y": {"field": "mu", "type": "quantitative", "axis": null, "scale": {"domain": [0, 35], "reverse": true, "nice": false, "zero": false}},
        "text": {"field": "label"}
      }
    },
    {
      "data": {"name": "sideTitles"},
      "mark": {"type": "text", "align": "left", "baseline": "alphabetic", "angle": 270, "color": "#000"},
      "encoding": {
        "x": {"field": "r", "type": "quantitative", "axis": null, "scale": {"domain": [0, 1250], "nice": false, "zero": false}},
        "y": {"field": "mu", "type": "quantitative", "axis": null, "scale": {"domain": [0, 35], "reverse": true, "nice": false, "zero": false}},
        "text": {"field": "label"},
        "size": {"field": "kind", "type": "nominal", "legend": null, "scale": {"domain": ["main", "small"], "range": [26, 20]}}
      }
    }
  ]
}
